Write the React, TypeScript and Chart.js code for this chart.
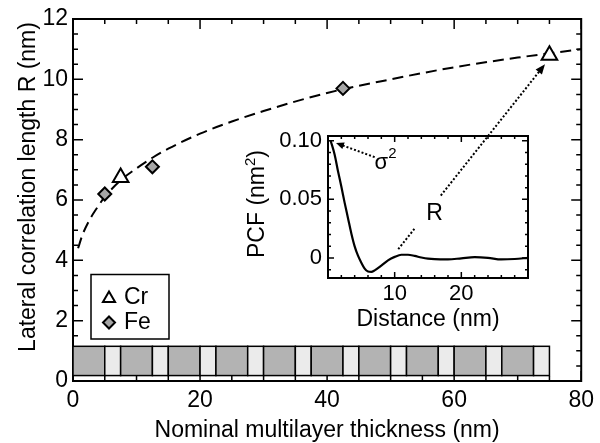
import React, { useEffect, useRef } from 'react';
import { Chart, registerables } from 'chart.js';
Chart.register(...registerables);

// ---- main plot data ----
const crThickness = [7.5, 75];
const crR = [6.75, 10.8];
const feThickness = [5, 12.5, 42.5];
const feR = [6.2, 7.1, 9.7];
const fitThickness = [0.8, 1.5, 2.5, 3.5, 5, 7.5, 10, 12.5, 15, 20, 25, 30, 40, 50, 60, 70, 80];
const fitR = [4.4, 4.85, 5.3, 5.65, 6.1, 6.65, 7.05, 7.4, 7.7, 8.2, 8.6, 8.95, 9.55, 10.0, 10.4, 10.72, 11.0];
const xTicks = [0, 20, 40, 60, 80];
const yTicks = [0, 2, 4, 6, 8, 10, 12];
// multilayer stack (nm)
const layerMaterial = ['Fe', 'Cr', 'Fe', 'Cr', 'Fe', 'Cr', 'Fe', 'Cr', 'Fe', 'Cr', 'Fe', 'Cr', 'Fe', 'Cr', 'Fe', 'Cr', 'Fe', 'Cr', 'Fe', 'Cr'];
const layerThickness = [5, 2.5, 5, 2.5, 5, 2.5, 5, 2.5, 5, 2.5, 5, 2.5, 5, 2.5, 5, 2.5, 5, 2.5, 5, 2.5];
const stackBottom = 0.18;
const stackTop = 1.15;

// ---- inset data ----
const pcfDistance = [0.4, 1, 1.5, 2, 2.5, 3, 3.5, 4, 4.5, 5, 5.5, 6, 6.5, 7, 8, 9, 10, 11, 12, 13, 14, 15, 16, 18, 20, 22, 24, 26, 28, 30];
const pcfValue = [0.1, 0.088, 0.074, 0.061, 0.047, 0.034, 0.021, 0.01, 0.002, -0.004, -0.009, -0.0115, -0.0118, -0.0105, -0.0065, -0.002, 0.001, 0.0028, 0.0028, 0.0018, 0.0005, -0.0005, -0.001, -0.0012, -0.0002, 0.0008, 0.0002, -0.0012, -0.0008, 0.0002];
const insetXTicks = [10, 20];
const insetYTicks = [0, 0.05, 0.1];
const insetYTickLabels = ['0', '0.05', '0.10'];

// annotations
const rArrowFrom = { x: 51.2, y: 4.37 };
const rArrowTo = { x: 74.3, y: 10.5 };
const sigmaArrowFrom = { x: 7.0, y: 0.086 };
const sigmaArrowTo = { x: 1.2, y: 0.098 };
const sigmaLabelAt = { x: 8.0, y: 0.081 };

const FONT = "'Liberation Sans', Arial, Helvetica, sans-serif";
const DARK = '#b3b3b3';
const LIGHT = '#ebebeb';
const MARK = '#a6a6a6';

function drawTriangle(ctx: CanvasRenderingContext2D, x: number, y: number, r: number) {
  ctx.beginPath();
  for (let i = 0; i < 3; i++) {
    const a = -Math.PI / 2 + (i * 2 * Math.PI) / 3;
    const px = x + Math.cos(a) * r, py = y + Math.sin(a) * r;
    if (i === 0) ctx.moveTo(px, py); else ctx.lineTo(px, py);
  }
  ctx.closePath();
  ctx.fillStyle = '#fff';
  ctx.fill();
  ctx.lineWidth = 2;
  ctx.strokeStyle = '#000';
  ctx.stroke();
}
function drawDiamond(ctx: CanvasRenderingContext2D, x: number, y: number, r: number) {
  ctx.beginPath();
  ctx.moveTo(x, y - r); ctx.lineTo(x + r, y); ctx.lineTo(x, y + r); ctx.lineTo(x - r, y);
  ctx.closePath();
  ctx.fillStyle = MARK;
  ctx.fill();
  ctx.lineWidth = 2;
  ctx.strokeStyle = '#000';
  ctx.stroke();
}

function drawArrowHead(ctx: CanvasRenderingContext2D, x0: number, y0: number, x1: number, y1: number, len: number, w: number) {
  const a = Math.atan2(y1 - y0, x1 - x0);
  ctx.save();
  ctx.setLineDash([]);
  ctx.beginPath();
  ctx.moveTo(x1, y1);
  ctx.lineTo(x1 - len * Math.cos(a) + w * Math.sin(a), y1 - len * Math.sin(a) - w * Math.cos(a));
  ctx.lineTo(x1 - len * Math.cos(a) - w * Math.sin(a), y1 - len * Math.sin(a) + w * Math.cos(a));
  ctx.closePath();
  ctx.fillStyle = '#000';
  ctx.fill();
  ctx.restore();
}

function drawAxisTicks(chart: any, xMinor: number, xMajor: number, yMinor: number, yMajor: number, majLen: number, minLen: number, frameW: number) {
  const { ctx, chartArea, scales } = chart;
  const { left, right, top, bottom } = chartArea;
  const xs = scales.x, ys = scales.y;
  ctx.save();
  ctx.strokeStyle = '#000';
  ctx.lineWidth = 1.5;
  ctx.beginPath();
  const eps = 1e-9;
  for (let v = Math.ceil(xs.min / xMinor) * xMinor; v <= xs.max + eps; v += xMinor) {
    const p = xs.getPixelForValue(v);
    const isMaj = Math.abs(v / xMajor - Math.round(v / xMajor)) < 1e-6;
    const l = isMaj ? majLen : minLen;
    ctx.moveTo(p, bottom); ctx.lineTo(p, bottom - l);
    ctx.moveTo(p, top); ctx.lineTo(p, top + l);
  }
  for (let v = Math.ceil(ys.min / yMinor) * yMinor; v <= ys.max + eps; v += yMinor) {
    const p = ys.getPixelForValue(v);
    const isMaj = Math.abs(v / yMajor - Math.round(v / yMajor)) < 1e-6;
    const l = isMaj ? majLen : minLen;
    ctx.moveTo(left, p); ctx.lineTo(left + l, p);
    ctx.moveTo(right, p); ctx.lineTo(right - l, p);
  }
  ctx.stroke();
  ctx.lineWidth = frameW;
  ctx.strokeRect(left, top, right - left, bottom - top);
  ctx.restore();
}

const mainPlugin = {
  id: 'mainDecor',
  beforeDatasetsDraw(chart: any) {
    const { ctx, scales } = chart;
    const xs = scales.x, ys = scales.y;
    drawAxisTicks(chart, 5, 20, 0.5, 2, 10, 5, 2);
    // multilayer stack
    const yb = ys.getPixelForValue(stackBottom);
    const yt = ys.getPixelForValue(stackTop);
    let pos = 0;
    ctx.save();
    ctx.lineWidth = 1.5;
    ctx.strokeStyle = '#000';
    layerThickness.forEach((t, i) => {
      const x0 = xs.getPixelForValue(pos);
      const x1 = xs.getPixelForValue(pos + t);
      ctx.fillStyle = layerMaterial[i] === 'Fe' ? DARK : LIGHT;
      ctx.fillRect(x0, yt, x1 - x0, yb - yt);
      ctx.strokeRect(x0, yt, x1 - x0, yb - yt);
      pos += t;
    });
    ctx.restore();
  },
  afterDraw(chart: any) {
    const { ctx, chartArea, scales } = chart;
    const xs = scales.x, ys = scales.y;
    ctx.save();
    // axis titles
    ctx.fillStyle = '#000';
    ctx.font = `23px ${FONT}`;
    ctx.textAlign = 'center';
    ctx.textBaseline = 'middle';
    ctx.fillText('Nominal multilayer thickness (nm)', (chartArea.left + chartArea.right) / 2, 431);
    ctx.save();
    ctx.translate(29, 187);
    ctx.rotate(-Math.PI / 2);
    ctx.fillText('Lateral correlation length R (nm)', 0, 0);
    ctx.restore();

    // legend
    const lx = chartArea.left + 18, ly = 274.5, lw = 78, lh = 64.5;
    ctx.fillStyle = '#fff';
    ctx.fillRect(lx, ly, lw, lh);
    ctx.lineWidth = 1.5;
    ctx.strokeStyle = '#000';
    ctx.strokeRect(lx, ly, lw, lh);
    drawTriangle(ctx, lx + 18, ly + 24, 7);
    drawDiamond(ctx, lx + 18, ly + 48, 6);
    ctx.fillStyle = '#000';
    ctx.textAlign = 'left';
    ctx.font = `23px ${FONT}`;
    ctx.fillText('Cr', lx + 33, ly + 23);
    ctx.fillText('Fe', lx + 33, ly + 48);

    // R arrow (dotted, with gap for label)
    const x0 = xs.getPixelForValue(rArrowFrom.x), y0 = ys.getPixelForValue(rArrowFrom.y);
    const x1 = xs.getPixelForValue(rArrowTo.x), y1 = ys.getPixelForValue(rArrowTo.y);
    const at = (t: number) => [x0 + (x1 - x0) * t, y0 + (y1 - y0) * t];
    ctx.lineWidth = 2;
    ctx.setLineDash([2, 2]);
    ctx.beginPath();
    let p = at(0); ctx.moveTo(p[0], p[1]);
    p = at(0.11); ctx.lineTo(p[0], p[1]);
    p = at(0.29); ctx.moveTo(p[0], p[1]);
    p = at(0.96); ctx.lineTo(p[0], p[1]);
    ctx.stroke();
    drawArrowHead(ctx, x0, y0, x1, y1, 10, 4);
    const pl = at(0.2);
    ctx.font = `23px ${FONT}`;
    ctx.textAlign = 'center';
    ctx.fillText('R', pl[0] + 7, pl[1] + 1);
    ctx.restore();
  },
};

const insetPlugin = {
  id: 'insetDecor',
  beforeDatasetsDraw(chart: any) {
    drawAxisTicks(chart, 2, 10, 0.01, 0.05, 6, 3, 2);
  },
  afterDraw(chart: any) {
    const { ctx, chartArea, scales } = chart;
    const xs = scales.x, ys = scales.y;
    ctx.save();
    ctx.fillStyle = '#000';
    ctx.font = `23px ${FONT}`;
    ctx.textAlign = 'center';
    ctx.textBaseline = 'middle';
    ctx.fillText('Distance (nm)', (chartArea.left + chartArea.right) / 2, 320);
    // y title with superscript
    ctx.save();
    ctx.translate(258, 204);
    ctx.rotate(-Math.PI / 2);
    const main = 'PCF (nm';
    ctx.font = `23px ${FONT}`;
    const w1 = ctx.measureText(main).width;
    ctx.font = `15px ${FONT}`;
    const w2 = ctx.measureText('2').width;
    ctx.font = `23px ${FONT}`;
    const w3 = ctx.measureText(')').width;
    const total = w1 + w2 + w3;
    ctx.textAlign = 'left';
    let cx = -total / 2;
    ctx.fillText(main, cx, 0); cx += w1;
    ctx.font = `15px ${FONT}`;
    ctx.fillText('2', cx, -7); cx += w2;
    ctx.font = `23px ${FONT}`;
    ctx.fillText(')', cx, 0);
    ctx.restore();

    // sigma^2 arrow
    const sx0 = xs.getPixelForValue(sigmaArrowFrom.x), sy0 = ys.getPixelForValue(sigmaArrowFrom.y);
    const sx1 = xs.getPixelForValue(sigmaArrowTo.x), sy1 = ys.getPixelForValue(sigmaArrowTo.y);
    ctx.lineWidth = 2;
    ctx.setLineDash([2, 2]);
    ctx.beginPath();
    ctx.moveTo(sx0, sy0);
    ctx.lineTo(sx0 + (sx1 - sx0) * 0.85, sy0 + (sy1 - sy0) * 0.85);
    ctx.stroke();
    drawArrowHead(ctx, sx0, sy0, sx1, sy1, 8, 3.5);
    const lx = xs.getPixelForValue(sigmaLabelAt.x), ly = ys.getPixelForValue(sigmaLabelAt.y);
    ctx.font = `22px ${FONT}`;
    ctx.textAlign = 'center';
    ctx.fillText('σ', lx, ly);
    ctx.font = `15px ${FONT}`;
    ctx.fillText('2', lx + 11, ly - 9);
    ctx.restore();
  },
};

export default function App() {
  const mainRef = useRef<HTMLCanvasElement>(null);
  const insetRef = useRef<HTMLCanvasElement>(null);

  useEffect(() => {
    const tickFont = { family: FONT, size: 23 };
    const main = new Chart(mainRef.current as HTMLCanvasElement, {
      type: 'scatter',
      data: {
        datasets: [
          {
            label: 'Cr',
            data: crThickness.map((x, i) => ({ x, y: crR[i] })),
            pointStyle: 'triangle',
            pointRadius: 9,
            backgroundColor: '#fff',
            borderColor: '#000',
            borderWidth: 2,
            showLine: false,
          },
          {
            label: 'Fe',
            data: feThickness.map((x, i) => ({ x, y: feR[i] })),
            pointStyle: 'rectRot',
            pointRadius: 6.5,
            backgroundColor: MARK,
            borderColor: '#000',
            borderWidth: 2,
            showLine: false,
          },
          {
            label: 'fit',
            data: fitThickness.map((x, i) => ({ x, y: fitR[i] })),
            showLine: true,
            borderColor: '#000',
            borderWidth: 2,
            borderDash: [11, 6],
            pointRadius: 0,
            cubicInterpolationMode: 'monotone',
            fill: false,
          },
        ],
      },
      options: {
        animation: false,
        responsive: false,
        maintainAspectRatio: false,
        layout: { padding: { top: 19, right: 16, left: 0, bottom: 0 } },
        plugins: { legend: { display: false }, tooltip: { enabled: false } },
        scales: {
          x: {
            type: 'linear',
            min: 0,
            max: 80,
            afterBuildTicks: (s: any) => { s.ticks = xTicks.map((v) => ({ value: v })); },
            afterFit: (s: any) => { s.height = 62; },
            grid: { display: false, drawTicks: false },
            border: { display: false },
            ticks: { font: tickFont, color: '#000', padding: 6, maxRotation: 0, autoSkip: false },
          },
          y: {
            type: 'linear',
            min: 0,
            max: 12,
            afterBuildTicks: (s: any) => { s.ticks = yTicks.map((v) => ({ value: v })); },
            afterFit: (s: any) => { s.width = 73; },
            grid: { display: false, drawTicks: false },
            border: { display: false },
            ticks: { font: tickFont, color: '#000', padding: 5, autoSkip: false },
          },
        },
      },
      plugins: [mainPlugin],
    } as any);

    const insetFont = { family: FONT, size: 22 };
    const inset = new Chart(insetRef.current as HTMLCanvasElement, {
      type: 'scatter',
      data: {
        datasets: [
          {
            label: 'PCF',
            data: pcfDistance.map((x, i) => ({ x, y: pcfValue[i] })),
            showLine: true,
            borderColor: '#000',
            borderWidth: 2.2,
            pointRadius: 0,
            cubicInterpolationMode: 'monotone',
            fill: false,
          },
        ],
      },
      options: {
        animation: false,
        responsive: false,
        maintainAspectRatio: false,
        layout: { padding: { top: 136, right: 72, left: 0, bottom: 0 } },
        plugins: { legend: { display: false }, tooltip: { enabled: false } },
        scales: {
          x: {
            type: 'linear',
            min: 0,
            max: 30,
            afterBuildTicks: (s: any) => { s.ticks = insetXTicks.map((v) => ({ value: v })); },
            afterFit: (s: any) => { s.height = 165; },
            grid: { display: false, drawTicks: false },
            border: { display: false },
            ticks: { font: insetFont, color: '#000', padding: 3, maxRotation: 0, autoSkip: false },
          },
          y: {
            type: 'linear',
            min: -0.017,
            max: 0.104,
            afterBuildTicks: (s: any) => { s.ticks = insetYTicks.map((v) => ({ value: v })); },
            afterFit: (s: any) => { s.width = 328; },
            grid: { display: false, drawTicks: false },
            border: { display: false },
            ticks: {
              font: insetFont,
              color: '#000',
              padding: 6,
              autoSkip: false,
              callback: (v: any) => {
                const i = insetYTicks.findIndex((t) => Math.abs(t - v) < 1e-9);
                return i >= 0 ? insetYTickLabels[i] : '';
              },
            },
          },
        },
      },
      plugins: [insetPlugin],
    } as any);

    return () => {
      main.destroy();
      inset.destroy();
    };
  }, []);

  return (
    <div style={{ position: 'absolute', left: 0, top: 0, width: 600, height: 443, background: '#fff' }}>
      <canvas ref={mainRef} width={600} height={443} style={{ position: 'absolute', left: 0, top: 0, display: 'block' }} />
      <canvas ref={insetRef} width={600} height={443} style={{ position: 'absolute', left: 0, top: 0, display: 'block' }} />
    </div>
  );
}
